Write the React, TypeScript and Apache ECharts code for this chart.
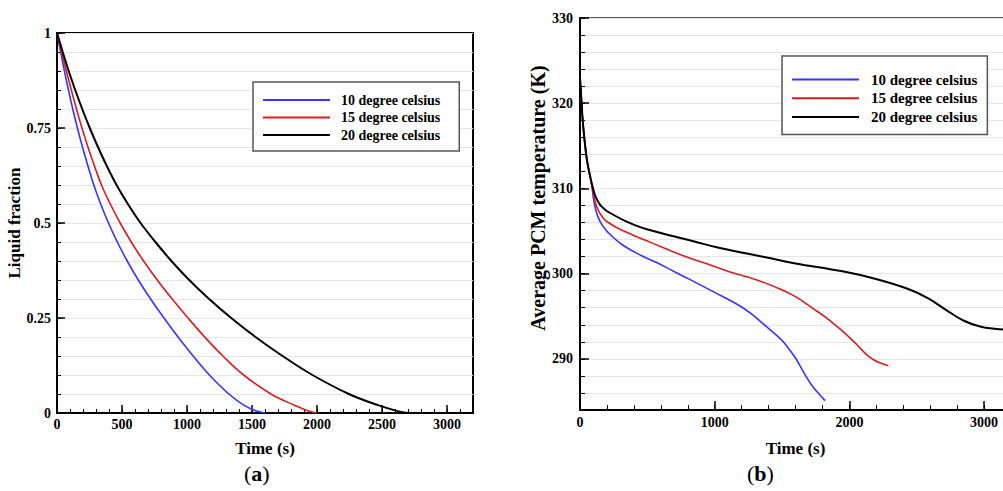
import React, { useEffect, useRef } from "react";
import * as echarts from "echarts";

const seriesNames = ["10 degree celsius", "15 degree celsius", "20 degree celsius"];
const seriesColors = ["#3535ff", "#d81e1e", "#000000"];

// (a) Liquid fraction vs time [s, fraction]
const liquid10: number[][] = [
  [0, 1], [28, 0.95], [57, 0.9], [88, 0.85], [121, 0.8], [157, 0.75], [196, 0.7], [238, 0.65],
  [283, 0.6], [336, 0.55], [396, 0.5], [464, 0.45], [540, 0.4], [625, 0.35], [720, 0.3],
  [823, 0.25], [931, 0.2], [1047, 0.15], [1172, 0.1], [1322, 0.05], [1440, 0.02], [1535, 0.005], [1600, 0],
];
const liquid15: number[][] = [
  [0, 1], [35, 0.95], [72, 0.9], [110, 0.85], [150, 0.8], [192, 0.75], [238, 0.7], [288, 0.65],
  [342, 0.6], [410, 0.55], [486, 0.5], [571, 0.45], [666, 0.4], [771, 0.35], [886, 0.3],
  [1008, 0.25], [1136, 0.2], [1276, 0.15], [1436, 0.1], [1646, 0.05], [1830, 0.02], [1935, 0.005], [2000, 0],
];
const liquid20: number[][] = [
  [0, 1], [44, 0.95], [90, 0.9], [140, 0.85], [194, 0.8], [252, 0.75], [315, 0.7], [383, 0.65],
  [458, 0.6], [545, 0.55], [643, 0.5], [757, 0.45], [880, 0.4], [1017, 0.35], [1170, 0.3],
  [1340, 0.25], [1527, 0.2], [1735, 0.15], [1965, 0.1], [2245, 0.05], [2475, 0.02], [2620, 0.005], [2700, 0],
];

// (b) Average PCM temperature vs time [s, K]
const temp10: number[][] = [
  [0, 323], [10, 320.5], [20, 318], [35, 315.5], [50, 313.5], [70, 311.8], [88, 310.3], [100, 308.8],
  [115, 307.6], [135, 306.6], [165, 305.7], [210, 304.8], [322, 303.3], [458, 302.1], [569, 301.3],
  [705, 300.2], [792, 299.5], [1000, 297.8], [1188, 296.2], [1280, 295.2], [1361, 294.1],
  [1485, 292.4], [1550, 291.2], [1600, 290.1], [1640, 289.0], [1680, 287.9], [1730, 286.7], [1780, 285.8], [1820, 285.1],
];
const temp15: number[][] = [
  [0, 323], [10, 320.5], [20, 318], [35, 315.5], [50, 313.5], [70, 311.8], [95, 309.8], [110, 308.6],
  [130, 307.6], [173, 306.5], [210, 306.0], [297, 305.2], [458, 304.1], [520, 303.7], [767, 302.1],
  [953, 301.1], [1114, 300.2], [1324, 299.2], [1485, 298.2], [1600, 297.3], [1732, 295.9],
  [1856, 294.5], [1960, 293.1], [2060, 291.6], [2128, 290.5], [2180, 289.9], [2240, 289.45], [2290, 289.2],
];
const temp20: number[][] = [
  [0, 323], [10, 320.5], [20, 318], [35, 315.5], [50, 313.5], [70, 311.8], [100, 309.8], [120, 308.9],
  [148, 308.1], [180, 307.6], [215, 307.2], [346, 306.1], [458, 305.4], [594, 304.8], [842, 303.8],
  [1039, 303.0], [1386, 301.9], [1600, 301.2], [1940, 300.3], [2190, 299.4], [2437, 298.2],
  [2586, 297.1], [2722, 295.7], [2846, 294.5], [2970, 293.8], [3093, 293.5], [3150, 293.45],
];

const liquidData = [liquid10, liquid15, liquid20];
const tempData = [temp10, temp15, temp20];

const FONT = "Liberation Serif";

export default function App() {
  const ref = useRef<HTMLDivElement>(null);

  useEffect(() => {
    if (!ref.current) return;
    const chart = echarts.init(ref.current, null, { renderer: "svg" });

    const fmt = (v: number) => String(Math.round(v * 1000) / 1000);
    const labelStyle = { fontFamily: FONT, fontWeight: "bold" as const, fontSize: 14, color: "#000", formatter: fmt };
    const nameStyle = { fontFamily: FONT, fontWeight: "bold" as const, fontSize: 17, color: "#000" };
    const axisLine = { show: true, lineStyle: { color: "#000", width: 2 } };

    const mainAxis = (extra: any) => ({
      type: "value",
      axisLine,
      axisTick: { show: true, inside: true, length: 8, lineStyle: { color: "#000", width: 1.5 } },
      splitLine: { show: false },
      axisLabel: { ...labelStyle, showMaxLabel: false },
      nameTextStyle: nameStyle,
      nameLocation: "middle",
      ...extra,
    });
    const minorAxis = (extra: any) => ({
      type: "value",
      axisLine: { show: false },
      axisTick: { show: true, inside: true, length: 4, lineStyle: { color: "#000", width: 1 } },
      axisLabel: { show: false },
      splitLine: { show: false },
      ...extra,
    });

    const legendBase = {
      orient: "vertical",
      itemWidth: 67,
      itemHeight: 14,
      itemGap: 3.5,
      borderColor: "#555",
      borderWidth: 1.5,
      backgroundColor: "#fff",
      itemStyle: { opacity: 0 },
      data: seriesNames,
      selectedMode: false,
    };

    const option: any = {
      animation: false,
      backgroundColor: "#fff",
      grid: [
        { left: 57, top: 33, width: 416, height: 380, show: true, borderColor: "#000", borderWidth: 2, outerBoundsMode: "none" },
        { left: 580, top: 18, width: 431, height: 392, show: true, borderColor: "#222", borderWidth: 1.5, outerBoundsMode: "none" },
      ],
      legend: [
        { ...legendBase, left: 253, top: 82, padding: [11, 19, 9, 9],
          textStyle: { fontFamily: FONT, fontWeight: "bold", fontSize: 14, color: "#000", padding: [0, 0, 0, 6] } },
        { ...legendBase, left: 782, top: 56, padding: [16, 10, 10, 9], itemGap: 3.8,
          textStyle: { fontFamily: FONT, fontWeight: "bold", fontSize: 15, color: "#000", padding: [0, 0, 0, 7] } },
      ],
      xAxis: [
        mainAxis({ gridIndex: 0, min: 0, max: 3200, interval: 500, name: "Time (s)", nameGap: 27, axisLabel: { ...labelStyle, showMaxLabel: false, margin: 4 } }),
        minorAxis({ gridIndex: 0, min: 0, max: 3200, interval: 100, position: "bottom" }),
        mainAxis({ gridIndex: 1, min: 0, max: 3200, interval: 1000, name: "Time (s)", nameGap: 30, axisTick: { show: true, inside: true, length: 9, lineStyle: { color: "#000", width: 1.5 } }, axisLabel: { ...labelStyle, showMaxLabel: false, margin: 5 } }),
        minorAxis({ gridIndex: 1, min: 0, max: 3200, interval: 200, position: "bottom", axisTick: { show: true, inside: true, length: 5, lineStyle: { color: "#000", width: 1 } } }),
      ],
      yAxis: [
        mainAxis({ gridIndex: 0, min: 0, max: 1, interval: 0.25, name: "Liquid fraction", nameGap: 27, axisLabel: { ...labelStyle, showMaxLabel: true, margin: 6 } }),
        minorAxis({ gridIndex: 0, min: 0, max: 1, interval: 0.05, position: "left", splitLine: { show: true, lineStyle: { color: "#e6e6e6", width: 1 } } }),
        mainAxis({ gridIndex: 1, min: 284, max: 330, splitNumber: 5, name: "Average PCM temperature (K)", nameGap: 31, nameTextStyle: { ...nameStyle, fontSize: 20, padding: [0, 0, 0, 32] }, axisTick: { show: true, inside: true, length: 9, lineStyle: { color: "#000", width: 1.5 } }, axisLabel: { ...labelStyle, showMinLabel: false, showMaxLabel: true, margin: 7 } }),
        minorAxis({ gridIndex: 1, min: 284, max: 330, interval: 2, position: "left", axisTick: { show: true, inside: true, length: 5, lineStyle: { color: "#000", width: 1 } }, splitLine: { show: true, lineStyle: { color: "#e6e6e6", width: 1 } } }),
      ],
      series: [
        ...liquidData.map((d, i) => ({
          type: "line", name: seriesNames[i], xAxisIndex: 0, yAxisIndex: 0, data: d,
          symbol: "none", smooth: 0.4,
          lineStyle: { color: seriesColors[i], width: i === 2 ? 2 : 1.6 }, itemStyle: { color: seriesColors[i] },
        })),
        ...tempData.map((d, i) => ({
          type: "line", name: seriesNames[i], xAxisIndex: 2, yAxisIndex: 2, data: d,
          symbol: "none", smooth: 0.4,
          lineStyle: { color: seriesColors[i], width: i === 2 ? 2 : 1.6 }, itemStyle: { color: seriesColors[i] },
        })),
      ],
      graphic: [
        {
          type: "text", left: 264 - 20, top: 462,
          style: { text: "{p|(}{b|a}{p|)}", rich: { p: { fontFamily: FONT, fontSize: 22, fill: "#000" }, b: { fontFamily: FONT, fontSize: 22, fontWeight: "bold", fill: "#000" } } },
        },
        {
          type: "text", left: 767 - 20, top: 462,
          style: { text: "{p|(}{b|b}{p|)}", rich: { p: { fontFamily: FONT, fontSize: 22, fill: "#000" }, b: { fontFamily: FONT, fontSize: 22, fontWeight: "bold", fill: "#000" } } },
        },
      ],
    };

    chart.setOption(option);
    return () => chart.dispose();
  }, []);

  return (
    <div style={{ position: "absolute", left: 0, top: 0, width: 1003, height: 491, overflow: "hidden", background: "#fff" }}>
      <div ref={ref} style={{ width: 1003, height: 491 }} />
    </div>
  );
}
